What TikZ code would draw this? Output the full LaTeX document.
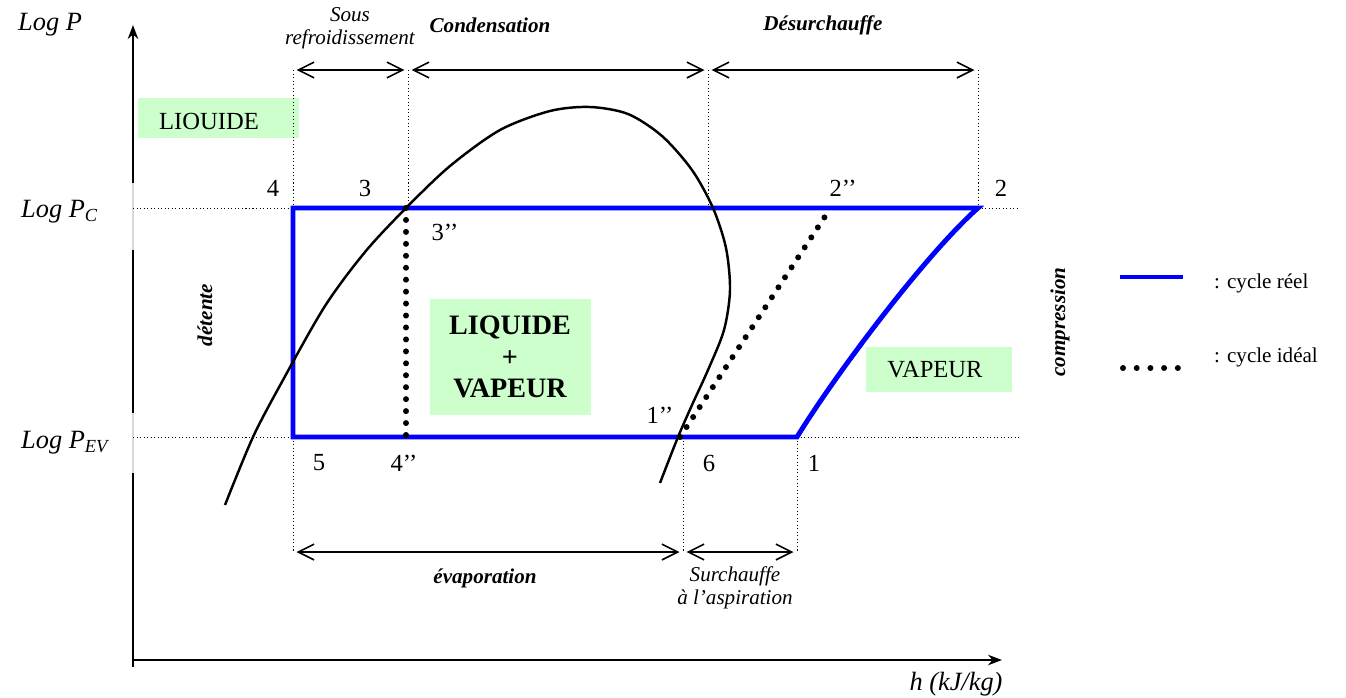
\documentclass[tikz,border=0pt]{standalone}
\usepackage{fontspec}
\setmainfont{Liberation Serif}
\usepackage{xcolor}
\usetikzlibrary{arrows.meta}

\definecolor{vert}{RGB}{204,255,204}

\tikzset{
  axe/.style={line width=1.1pt},
  cyclereel/.style={blue, line width=2.8pt, line join=miter},
  cycleideal/.style={line width=3.4pt, line cap=round, dash pattern=on 0pt off 6.8pt},
  dome/.style={line width=1.4pt},
  repere/.style={line width=0.5pt, dash pattern=on 0.6pt off 1.4pt},
  cote/.style={line width=0.9pt, shorten <=2pt, shorten >=2pt,
    {Straight Barb[length=9pt,width=9pt]}-{Straight Barb[length=9pt,width=9pt]}},
  grand/.style={font=\fontsize{15pt}{17pt}\selectfont\itshape},
  num/.style={font=\fontsize{14pt}{16pt}\selectfont},
  titre/.style={font=\fontsize{12pt}{14pt}\selectfont\bfseries\itshape},
  note/.style={font=\fontsize{12pt}{13pt}\selectfont\itshape, align=center},
  legende/.style={font=\fontsize{12pt}{14pt}\selectfont, anchor=west}
}

\begin{document}
\begin{tikzpicture}[x=0.02cm, y=-0.02cm]
    \useasboundingbox (0,0) rectangle (1346,697);

    % points du cycle
    \coordinate (p4) at (293,208);
    \coordinate (p2) at (978,208);
    \coordinate (p5) at (293,437);
    \coordinate (p1) at (797,437);
    \coordinate (p3) at (406,208);
    \coordinate (q4) at (406,437);
    \coordinate (q1) at (680,437);
    \coordinate (q2) at (826,215);
    \coordinate (p6) at (683,437);

    % zones
    \fill[vert] (138,98) rectangle (299,138);
    \fill[vert] (430,299) rectangle (591,415);
    \fill[vert] (866,347) rectangle (1012,392);

    % axes
    \coordinate (origine) at (133,660);
    \coordinate (ybas) at (133,667);
    \coordinate (yhaut) at (133,25);
    \coordinate (xfin) at (1002,660);
    \draw[gray!30, line width=0.6pt] (ybas) -- (133,40);
    \draw[axe, -{Stealth[length=8pt,width=6pt]}] (133,183) -- (yhaut);
    \draw[axe] (133,250) -- (133,413);
    \draw[axe] (133,473) -- (ybas);
    \draw[axe, -{Stealth[length=8pt,width=6pt]}] (origine) -- (xfin);

    % lignes de repere
    \draw[repere] (133,208) -- (p4);
    \draw[repere] (p2) -- (1020,208);
    \draw[repere] (133,437) -- (p5);
    \draw[repere] (p1) -- (1020,437);
    \draw[repere] (293,70) -- (p4);
    \draw[repere] (408,70) -- (408,208);
    \draw[repere] (708,70) -- (708,208);
    \draw[repere] (978,70) -- (p2);
    \draw[repere] (p5) -- (293,552);
    \draw[repere] (p6) -- (683,552);
    \draw[repere] (p1) -- (797,552);

    % cotes
    \draw[cote] (293,70) -- (408,70);
    \draw[cote] (408,70) -- (708,70);
    \draw[cote] (708,70) -- (978,70);
    \draw[cote] (293,552) -- (683,552);
    \draw[cote] (683,552) -- (797,552);

    % cycle reel
    \draw[cyclereel] (p4) -- (p2) .. controls (925,255) and (835,375) .. (p1) -- (p5) -- cycle;

    % courbe de saturation
    \draw[dome] plot[smooth] coordinates {(225,505) (253,437) (283,380) (325,306)
      (365,252) (406,208) (450,166) (500,130) (550,111) (590,107) (628,114)
      (662,136) (692,170) (713,208) (726,248) (730,290) (724,330) (708,370)
      (692,405) (678,437) (660,483)};

    % cycle ideal
    \draw[cycleideal] (p3) -- (q4);
    \draw[cycleideal] (q1) -- (q2);

    % textes
    \node[grand, anchor=west] (logp) at (12,25) {Log P};
    \node[grand, anchor=west] (logpc) at (15,212) {Log P\textsubscript{C}};
    \node[grand, anchor=west] (logpev) at (15,443) {Log P\textsubscript{EV}};
    \node[grand] (h) at (956,684) {h (kJ/kg)};

    \node[num] (n4) at (273,188) {4};
    \node[num] (n3) at (365,188) {3};
    \node[num] (n3b) at (445,232) {3’’};
    \node[num] (n2b) at (843,188) {2’’};
    \node[num] (n2) at (1001,188) {2};
    \node[num] (n5) at (319,463) {5};
    \node[num] (n4b) at (404,463) {4’’};
    \node[num] (n1b) at (660,415) {1’’};
    \node[num] (n6) at (709,463) {6};
    \node[num] (n1) at (814,463) {1};

    \node[num] (liq) at (209,121) {LIOUIDE};
    \node[num] (vap) at (935,370) {VAPEUR};
    \node[font=\fontsize{16pt}{18pt}\selectfont\bfseries, align=center] (melange) at (510,357) {LIQUIDE\\+\\VAPEUR};

    \node[note] (sous) at (350,28) {Sous\\refroidissement};
    \node[titre] (cond) at (490,25) {Condensation};
    \node[titre] (desur) at (823,25) {Désurchauffe};
    \node[titre] (evap) at (485,578) {évaporation};
    \node[note] (surch) at (735,588) {Surchauffe\\à l’aspiration};
    \node[titre, rotate=90] (detente) at (205,315) {détente};
    \node[titre, rotate=90] (compr) at (1060,322) {compression};

    % legende
    \coordinate (lega) at (1120,277);
    \coordinate (legb) at (1183,277);
    \coordinate (legc) at (1123,368);
    \coordinate (legd) at (1179,368);
    \draw[cyclereel] (lega) -- (legb);
    \draw[cycleideal, dash pattern=on 0pt off 7.8pt] (legc) -- (legd);
    \node[legende] (reel) at (1208,283) {: cycle réel};
    \node[legende] (ideal) at (1208,357) {: cycle idéal};
\end{tikzpicture}
\end{document}
